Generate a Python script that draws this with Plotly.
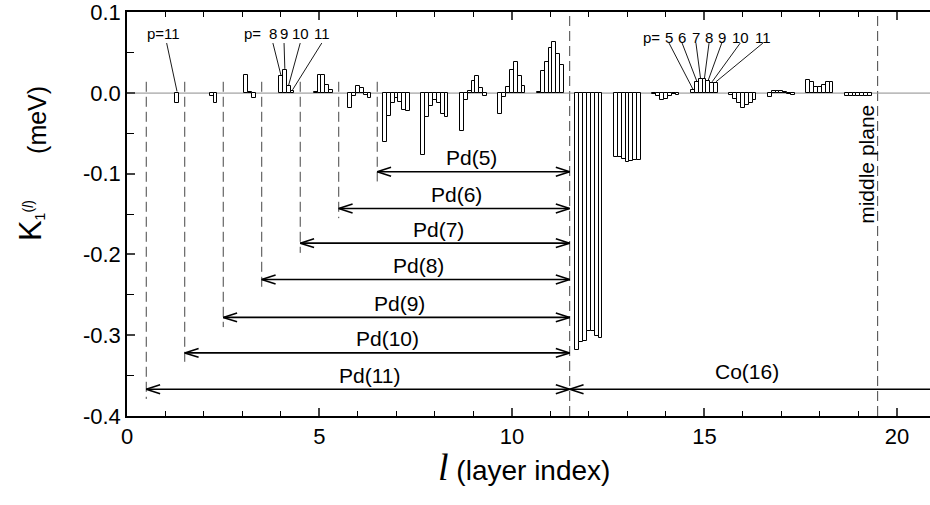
import plotly.graph_objects as go

# ---------------- data ----------------
layers = list(range(1, 20))          # layer index l
p_values = [5, 6, 7, 8, 9, 10, 11]   # Pd thickness p
N = None
k_p5 = [N, N, N, N, N, N, -0.061, -0.077, -0.047, -0.026, 0.001, -0.319, -0.079, -0.001, 0.004, -0.002, -0.005, 0.016, -0.004]
k_p6 = [N, N, N, N, N, -0.019, -0.029, -0.030, -0.008, -0.005, 0.028, -0.309, -0.079, -0.003, 0.014, -0.007, 0.002, 0.014, -0.003]
k_p7 = [N, N, N, N, 0.001, -0.004, -0.012, -0.016, 0.003, 0.0074, 0.039, -0.307, -0.082, -0.008, 0.017, -0.012, 0.003, 0.008, -0.003]
k_p8 = [N, N, N, 0.021, 0.023, 0.009, -0.006, -0.008, 0.015, 0.029, 0.056, -0.295, -0.085, -0.007, 0.017, -0.018, 0.003, 0.007, -0.003]
k_p9 = [N, N, 0.023, 0.029, 0.023, 0.006, -0.011, -0.012, 0.021, 0.039, 0.063, -0.295, -0.084, -0.004, 0.015, -0.015, 0.001, 0.010, -0.003]
k_p10 = [N, -0.003, 0.001, 0.009, 0.0095, -0.002, -0.021, -0.026, 0.006, 0.021, 0.049, -0.301, -0.083, -0.001, 0.013, -0.012, -0.001, 0.014, -0.003]
k_p11 = [-0.012, -0.012, -0.006, 0.003, 0.004, -0.006, -0.022, -0.030, -0.003, 0.009, 0.035, -0.304, -0.083, -0.002, 0.013, -0.008, -0.002, 0.014, -0.003]
series = [k_p5, k_p6, k_p7, k_p8, k_p9, k_p10, k_p11]

pd_interface = 11.5
middle_plane = 19.5
pd_labels = ["Pd(5)", "Pd(6)", "Pd(7)", "Pd(8)", "Pd(9)", "Pd(10)", "Pd(11)"]
co_label = "Co(16)"
y_ticks = [0.1, 0.0, -0.1, -0.2, -0.3, -0.4]
y_ticktext = ["0.1", "0.0", "-0.1", "-0.2", "-0.3", "-0.4"]

# ---------------- styling / layout constants ----------------
FONT = "Liberation Sans, Arial, Helvetica, sans-serif"
BW = 0.1
arrow_y = [-0.0975, -0.143, -0.186, -0.231, -0.278, -0.322, -0.367]
label_x = [8.96, 8.55, 8.1, 7.56, 7.09, 6.76, 6.29]
HEAD_L = 0.36
HEAD_H = 0.0055
XMAX = 20.86


def bar_x(l, p):
    return l + BW * (p - 8)


def val(l, p):
    return series[p_values.index(p)][layers.index(l)]


fig = go.Figure()

for p, vals in zip(p_values, series):
    xs = [bar_x(l, p) for l, v in zip(layers, vals) if v is not None]
    ys = [v for v in vals if v is not None]
    fig.add_trace(go.Bar(x=xs, y=ys, width=BW,
                         marker=dict(color="white", line=dict(color="black", width=1)),
                         showlegend=False, hoverinfo="skip"))

# arrows (double headed, open heads)
ax_, ay_ = [], []


def add_arrow(x0, x1, y, left=True, right=True):
    ax_.extend([x0, x1, None]); ay_.extend([y, y, None])
    if left:
        ax_.extend([x0 + HEAD_L, x0, x0 + HEAD_L, None]); ay_.extend([y + HEAD_H, y, y - HEAD_H, None])
    if right:
        ax_.extend([x1 - HEAD_L, x1, x1 - HEAD_L, None]); ay_.extend([y + HEAD_H, y, y - HEAD_H, None])


for p, y in zip(p_values, arrow_y):
    add_arrow(pd_interface - p, pd_interface, y)
add_arrow(pd_interface, XMAX + 1, arrow_y[-1], right=False)
fig.add_trace(go.Scatter(x=ax_, y=ay_, mode="lines", line=dict(color="black", width=1.6),
                         showlegend=False, hoverinfo="skip"))

# p= labels with leader lines
lead_x, lead_y = [], []
annots = []


def p_label(layer, ps, num_x, p_eq_x, y_text, y_start=0.062):
    annots.append(dict(x=p_eq_x, y=y_text, text="p=", showarrow=False,
                       font=dict(size=15, family=FONT, color="black")))
    for p, nx in zip(ps, num_x):
        annots.append(dict(x=nx, y=y_text, text=str(p), showarrow=False,
                           font=dict(size=15, family=FONT, color="black")))
        v = val(layer, p)
        lead_x.extend([nx, bar_x(layer, p), None])
        lead_y.extend([y_start, max(v, 0) + 0.001, None])


# layer 1 : "p=11"
annots.append(dict(x=0.94, y=0.074, text="p=11", showarrow=False,
                   font=dict(size=15, family=FONT, color="black")))
lead_x.extend([1.03, bar_x(1, 11), None]); lead_y.extend([0.062, max(val(1, 11), 0) + 0.002, None])
# layer 4
p_label(4, [8, 9, 10, 11], [3.79, 4.08, 4.5, 5.06], 3.26, 0.074)
# layer 15
p_label(15, p_values, [14.08, 14.42, 14.78, 15.12, 15.45, 15.93, 16.52], 13.62, 0.069)

fig.add_trace(go.Scatter(x=lead_x, y=lead_y, mode="lines", line=dict(color="black", width=0.9),
                         showlegend=False, hoverinfo="skip"))

# shapes
shapes = [dict(type="line", xref="x", yref="y", x0=0, x1=XMAX + 1, y0=0, y1=0,
               line=dict(color="#8c8c8c", width=1), layer="below")]
DASH = "10px,5px"
for p, y in zip(p_values, arrow_y):
    shapes.append(dict(type="line", xref="x", yref="y", x0=pd_interface - p, x1=pd_interface - p,
                       y0=0.014, y1=y - 0.012, line=dict(color="#444444", width=1, dash=DASH), layer="below"))
for xv in (pd_interface, middle_plane):
    shapes.append(dict(type="line", xref="x", yref="paper", x0=xv, x1=xv, y0=0, y1=1,
                       line=dict(color="#444444", width=1, dash=DASH), layer="below"))

for lab, lx, y in zip(pd_labels, label_x, arrow_y):
    annots.append(dict(x=lx, y=y + 0.0175, text=lab, showarrow=False,
                       font=dict(size=21, family=FONT, color="black")))
annots.append(dict(x=16.1, y=arrow_y[-1] + 0.0215, text=co_label, showarrow=False,
                   font=dict(size=21, family=FONT, color="black")))
annots.append(dict(x=19.19, y=-0.088, text="middle plane", showarrow=False, textangle=-90,
                   font=dict(size=21, family=FONT, color="black")))

# axis titles
annots.append(dict(xref="paper", yref="paper", x=-0.12, y=0.484, textangle=-90,
                   xanchor="center", yanchor="middle", showarrow=False,
                   text=('<span style="font-size:31px">K</span><sub>1</sub>'
                         '<sup>(</sup><sup><i>l</i></sup><sup>)</sup>'),
                   font=dict(size=20, family=FONT, color="black")))
annots.append(dict(xref="paper", yref="paper", x=-0.112, y=0.733, textangle=-90,
                   xanchor="center", yanchor="middle", showarrow=False,
                   text="(meV)", font=dict(size=25, family=FONT, color="black")))
annots.append(dict(xref="paper", yref="paper", x=0.494, y=-0.125,
                   xanchor="center", yanchor="middle", showarrow=False,
                   text='<span style="font-family:\'Liberation Serif\',serif;font-size:38px;font-style:italic">l</span> (layer index)',
                   font=dict(size=28, family=FONT, color="black")))

fig.update_layout(
    width=930, height=505,
    margin=dict(l=127, r=0, t=12, b=89),
    paper_bgcolor="white", plot_bgcolor="white",
    barmode="overlay", bargap=0,
    shapes=shapes, annotations=annots,
    font=dict(family=FONT, color="black"),
    xaxis=dict(range=[0, XMAX], tick0=0, dtick=5, ticks="inside", ticklen=8, tickwidth=1.5,
               showline=True, linecolor="black", linewidth=1.5, mirror="allticks",
               showgrid=False, zeroline=False, tickfont=dict(size=22, family=FONT),
               minor=dict(tickmode="linear", tick0=0, dtick=1, ticks="inside", ticklen=5,
                          tickwidth=1, tickcolor="black"),
               ticklabelstandoff=0),
    yaxis=dict(range=[-0.4002, 0.1005], tickmode="array", tickvals=y_ticks, ticktext=y_ticktext,
               ticks="inside", ticklen=8, tickwidth=1.5,
               showline=True, linecolor="black", linewidth=1.5, mirror=False,
               showgrid=False, zeroline=False, tickfont=dict(size=22, family=FONT),
               minor=dict(tickmode="linear", tick0=0, dtick=0.05, ticks="inside", ticklen=7,
                          tickwidth=1, tickcolor="black")),
)

fig.write_html("out.html")
